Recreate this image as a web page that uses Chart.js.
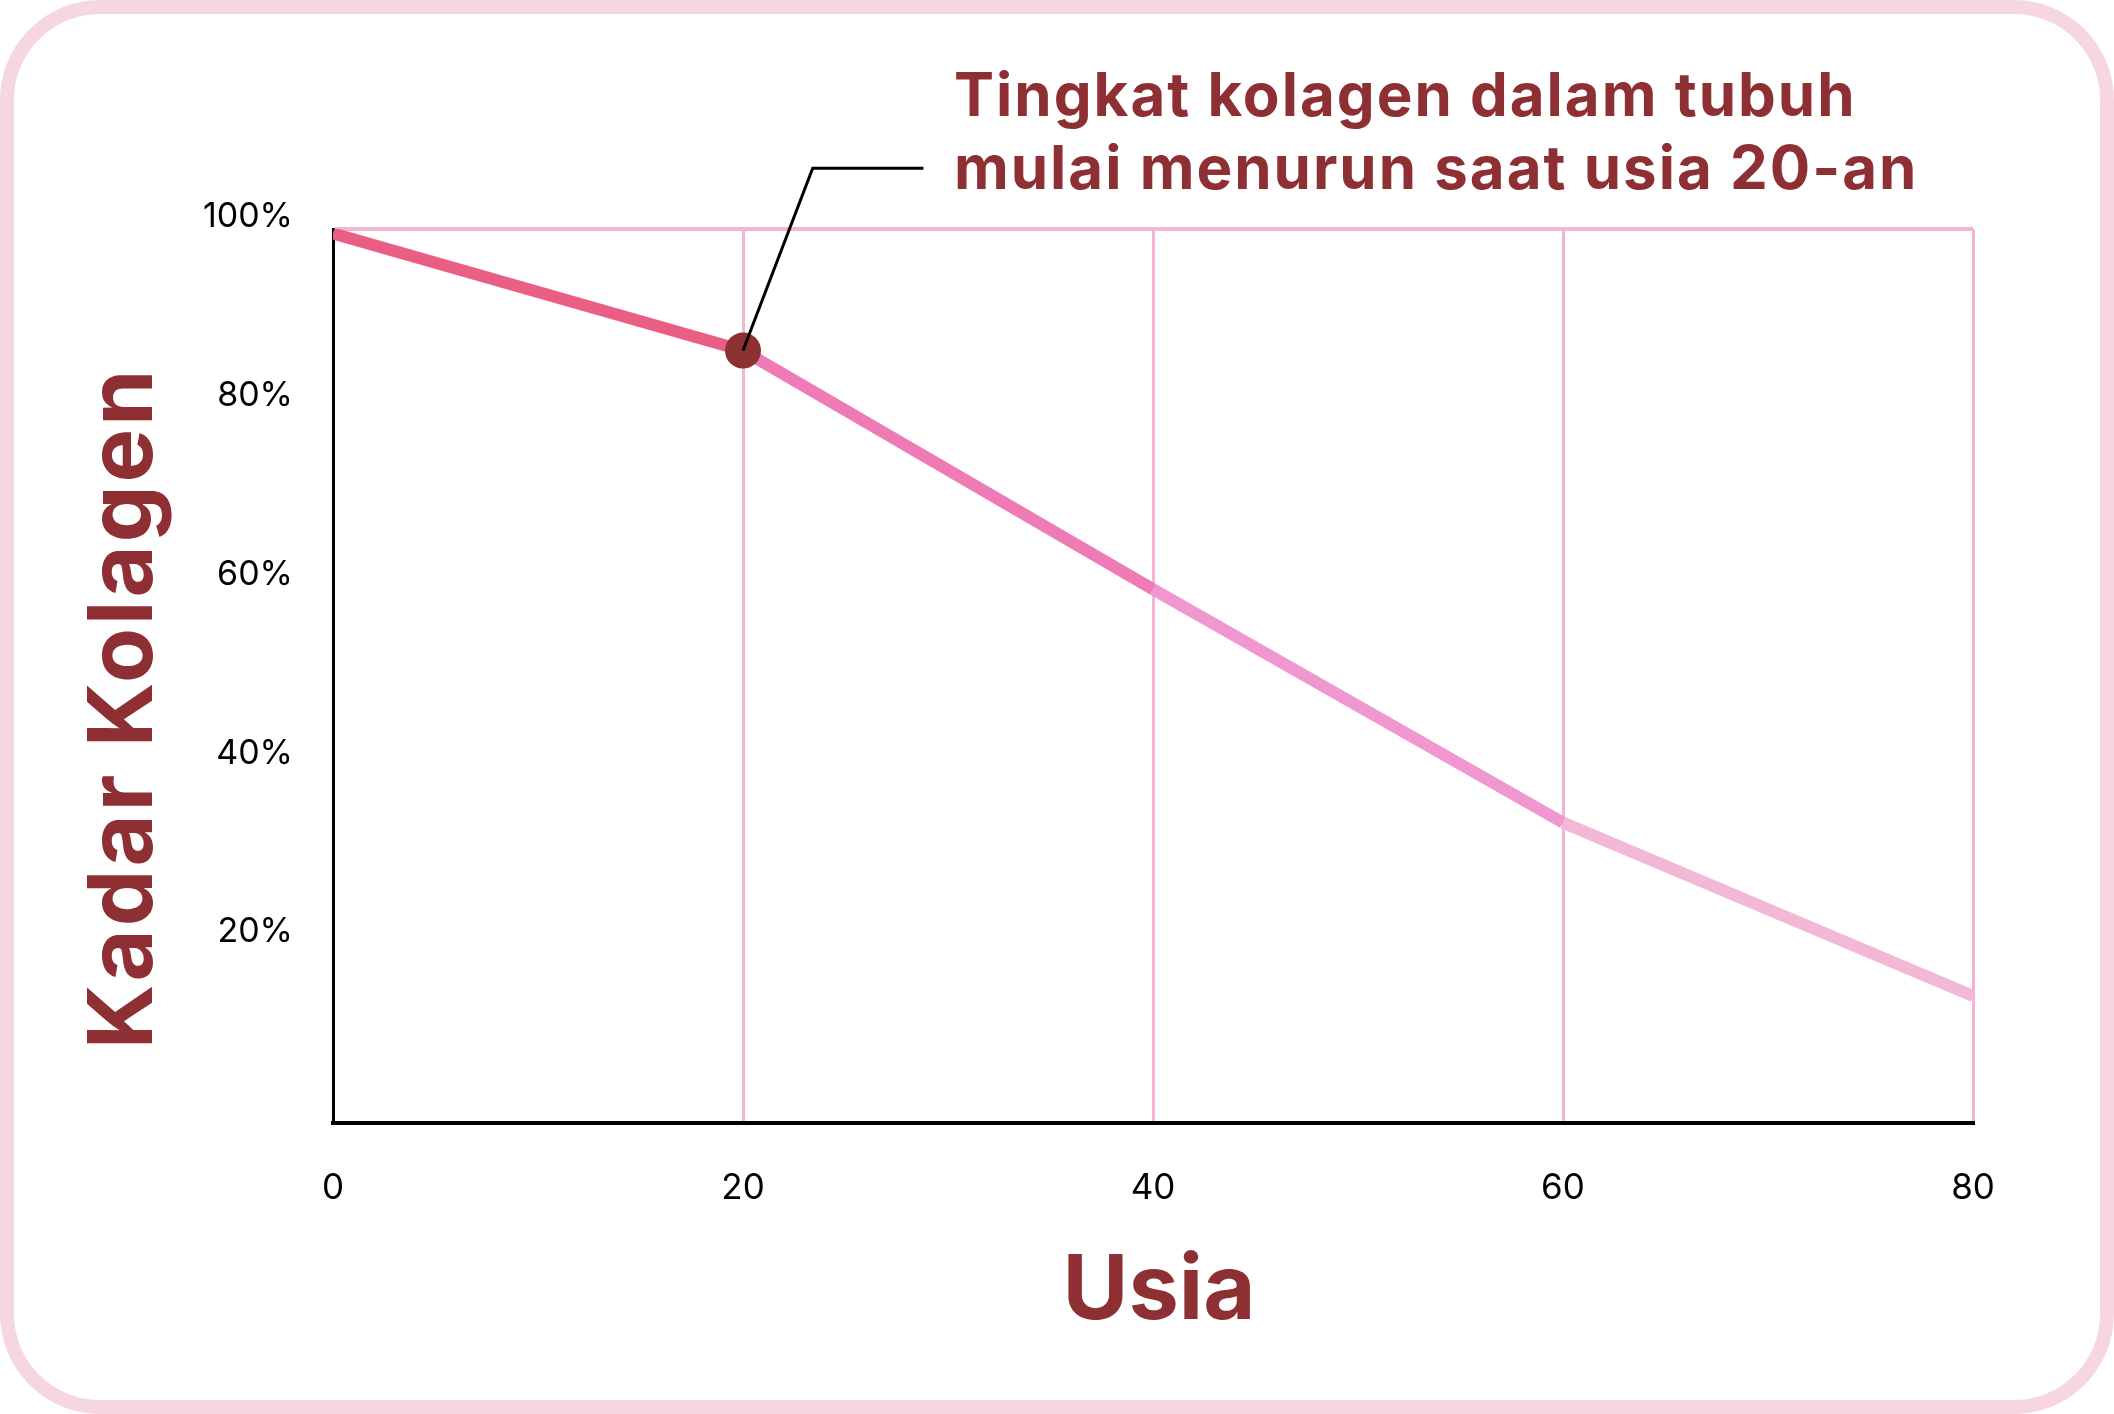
<!DOCTYPE html>
<html>
<head>
<meta charset="utf-8">
<script src="https://cdn.jsdelivr.net/npm/chart.js@4.4.1/dist/chart.umd.min.js"></script>
<style>
  html, body { margin: 0; padding: 0; background: #fff; }
  #frame {
    position: absolute; left: 0; top: 0; width: 2114px; height: 1414px;
    box-sizing: border-box; border: 14px solid #F7D6E4; border-radius: 100px;
  }
  #wrap { position: absolute; left: 0; top: 0; width: 2114px; height: 1414px; }
</style>
</head>
<body>
<div id="wrap"><canvas id="chart" width="2114" height="1414"></canvas></div>
<div id="frame"></div>
<script>
// data
var ages = [0, 20, 40, 60, 80];
var collagen = [99.5, 86.4, 59.7, 33.6, 14.2];
var segmentColors = ['#EA5E84', '#EE7BB6', '#EF97CE', '#F2B8D6'];
var yTicks = [20, 40, 60, 80, 100];
var xTitle = 'Usia';
var yTitle = 'Kadar Kolagen';
var noteLines = ['Tingkat kolagen dalam tubuh', 'mulai menurun saat usia 20-an'];
// leader line of the note, in data units (age, percent)
var noteX = [20, 23.4, 28.8];
var noteY = [86.4, 106.8, 106.8];

var darkRed = '#8E3033';
var gridPink = '#F2B5D5';
var font = 'Inter, "Noto Sans", sans-serif';

var points = ages.map(function (a, i) { return { x: a, y: collagen[i] }; });

var extras = {
  id: 'extras',
  afterDatasetsDraw: function (chart) {
    var ctx = chart.ctx, xs = chart.scales.x, ys = chart.scales.y;
    ctx.save();
    // leader line
    ctx.strokeStyle = '#000';
    ctx.lineWidth = 3;
    ctx.beginPath();
    for (var i = 0; i < noteX.length; i++) {
      var px = xs.getPixelForValue(noteX[i]), py = ys.getPixelForValue(noteY[i]);
      if (i === 0) ctx.moveTo(px, py); else ctx.lineTo(px, py);
    }
    ctx.stroke();
    // note text
    ctx.fillStyle = darkRed;
    ctx.font = '700 60px ' + font;
    ctx.letterSpacing = '2px';
    ctx.textAlign = 'left';
    ctx.textBaseline = 'middle';
    ctx.fillText(noteLines[0], 954, 98);
    ctx.fillText(noteLines[1], 954, 171);
    // axis titles
    ctx.font = '700 90px ' + font;
    ctx.letterSpacing = '0px';
    ctx.textAlign = 'center';
    ctx.fillText(xTitle, (chart.chartArea.left + chart.chartArea.right) / 2 + 6, 1292);
    ctx.translate(125, 708);
    ctx.rotate(-Math.PI / 2);
    ctx.font = '700 90px ' + font;
    ctx.letterSpacing = '3px';
    ctx.fillText(yTitle, 0, 0);
    ctx.restore();
  }
};

new Chart(document.getElementById('chart'), {
  type: 'line',
  data: {
    datasets: [{
      data: points,
      borderWidth: 12,
      borderCapStyle: 'butt',
      borderColor: segmentColors[0],
      segment: {
        borderColor: function (c) { return segmentColors[c.p0DataIndex]; }
      },
      pointRadius: [0, 18, 0, 0, 0],
      pointHoverRadius: [0, 18, 0, 0, 0],
      pointBorderWidth: 0,
      pointBackgroundColor: '#8C3032',
      tension: 0
    }]
  },
  options: {
    responsive: false,
    animation: false,
    events: [],
    layout: { padding: { top: 229, right: 141, left: 0, bottom: 0 } },
    plugins: { legend: { display: false }, tooltip: { enabled: false } },
    scales: {
      x: {
        type: 'linear', min: 0, max: 80,
        afterFit: function (s) { s.height = 291; },
        afterBuildTicks: function (s) { s.ticks = ages.map(function (v) { return { value: v }; }); },
        border: { color: '#000', width: 4 },
        grid: {
          drawTicks: false, lineWidth: 3,
          color: function (c) { return c.tick && c.tick.value > 0 ? gridPink : 'rgba(0,0,0,0)'; }
        },
        ticks: { padding: 44, color: '#000', font: { family: font, size: 35 } }
      },
      y: {
        type: 'linear', min: 0, max: 100,
        afterFit: function (s) { s.width = 333; },
        afterBuildTicks: function (s) { s.ticks = [0].concat(yTicks).map(function (v) { return { value: v }; }); },
        border: { color: '#000', width: 3 },
        grid: {
          drawTicks: false, lineWidth: 4,
          color: function (c) { return c.tick && c.tick.value === 100 ? gridPink : 'rgba(0,0,0,0)'; }
        },
        ticks: {
          padding: 40, labelOffset: -12, color: '#000', font: { family: font, size: 34 },
          callback: function (v) { return v === 0 ? '' : v + '%'; }
        }
      }
    }
  },
  plugins: [extras]
});
</script>
</body>
</html>
